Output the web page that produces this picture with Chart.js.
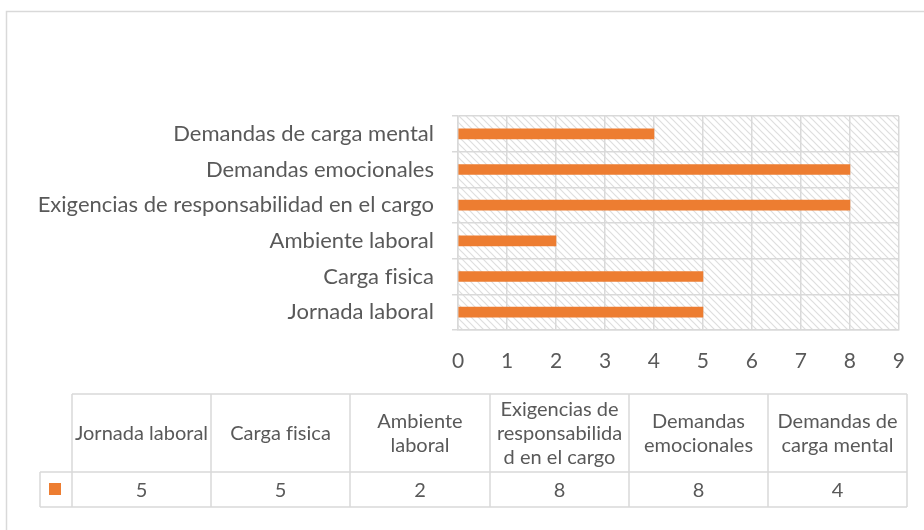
<!DOCTYPE html>
<html><head><meta charset="utf-8">
<script src="https://cdn.jsdelivr.net/npm/chart.js@4/dist/chart.umd.min.js"></script>
<style>html,body{margin:0;padding:0;background:#fff}canvas{font-variant-ligatures:none}</style>
</head><body>
<canvas id="c" width="924" height="530" style="display:block;width:924px;height:530px"></canvas>
<script>
const categories = ['Jornada laboral','Carga fisica','Ambiente laboral','Exigencias de responsabilidad en el cargo','Demandas emocionales','Demandas de carga mental'];
const values = [5,5,2,8,8,4];
const xMin = 0, xMax = 9;
const tableHeaderLines = [['Jornada laboral'],['Carga fisica'],['Ambiente','laboral'],['Exigencias de','responsabilida','d en el cargo'],['Demandas','emocionales'],['Demandas de','carga mental']];

const FONT = 'Lato, "Open Sans", sans-serif';
const TXT = '#595959';
const GRID = '#d9d9d9';
const BAR = '#ED7D31';

function hatchPattern(ctx){
  const s = 7;
  const p = document.createElement('canvas');
  p.width = s; p.height = s;
  const g = p.getContext('2d');
  g.strokeStyle = '#dedede';
  g.lineWidth = 1.2;
  g.beginPath();
  g.moveTo(-1,-1); g.lineTo(s+1,s+1);
  g.moveTo(-1,s-1); g.lineTo(1,s+1);
  g.moveTo(s-1,-1); g.lineTo(s+1,1);
  g.stroke();
  return ctx.createPattern(p,'repeat');
}

const decor = {
  id:'decor',
  beforeInit(chart){
    if ('letterSpacing' in chart.ctx) chart.ctx.letterSpacing = '0.01px';
  },
  beforeDraw(chart){
    const {ctx, chartArea:a} = chart;
    if ('letterSpacing' in ctx) ctx.letterSpacing = '0.01px';
    ctx.save();
    ctx.fillStyle = hatchPattern(ctx);
    ctx.fillRect(a.left, a.top, a.right-a.left, a.bottom-a.top);
    ctx.strokeStyle = GRID; ctx.lineWidth = 1.5;
    ctx.strokeRect(6.5, 11.5, 1200, 1200);
    ctx.restore();
  },
  afterDraw(chart){
    const ctx = chart.ctx;
    ctx.save();
    if ('letterSpacing' in ctx) ctx.letterSpacing = '0.01px';
    const colX = [72,211,350,490,629,768,907];
    const top = 394, mid = 472, bot = 507, legL = 40;
    ctx.strokeStyle = GRID; ctx.lineWidth = 1.5;
    ctx.beginPath();
    ctx.moveTo(colX[0], top); ctx.lineTo(colX[6], top);
    ctx.moveTo(legL, mid); ctx.lineTo(colX[6], mid);
    ctx.moveTo(legL, bot); ctx.lineTo(colX[6], bot);
    ctx.moveTo(legL, mid); ctx.lineTo(legL, bot);
    colX.forEach(x=>{ctx.moveTo(x, top); ctx.lineTo(x, bot);});
    ctx.stroke();
    ctx.fillStyle = BAR;
    ctx.fillRect(49, 483, 12, 12);
    ctx.fillStyle = TXT;
    ctx.textAlign = 'center'; ctx.textBaseline = 'middle';
    ctx.font = '20px ' + FONT;
    const lh = 24;
    tableHeaderLines.forEach((lines,i)=>{
      const cx = (colX[i]+colX[i+1])/2;
      const cy = (top+mid)/2 + 1;
      const y0 = cy - (lines.length-1)*lh/2;
      lines.forEach((t,j)=>ctx.fillText(t, cx, y0 + j*lh));
      ctx.fillText(String(values[i]), cx, (mid+bot)/2 + 1);
    });
    ctx.restore();
  }
};

new Chart(document.getElementById('c'), {
  type:'bar',
  data:{labels:categories, datasets:[{data:values, backgroundColor:BAR, barThickness:10}]},
  options:{
    indexAxis:'y', responsive:false, animation:false,
    layout:{padding:{top:116, right:22, left:0, bottom:0}},
    plugins:{legend:{display:false}, tooltip:{enabled:false}},
    scales:{
      x:{min:xMin, max:xMax, ticks:{stepSize:1, color:TXT, font:{family:FONT, size:21}, padding:19},
         grid:{color:GRID, lineWidth:1.5, drawTicks:false}, border:{color:GRID, width:1.5},
         afterFit(s){ s.height = 200; }},
      y:{reverse:true, ticks:{color:TXT, font:{family:FONT, size:22}, padding:18},
         grid:{color:GRID, lineWidth:1.5, tickLength:6, offset:true}, border:{color:GRID, width:1.5},
         afterFit(s){ s.width = 458; }}
    }
  },
  plugins:[decor]
});
</script>
</body></html>
